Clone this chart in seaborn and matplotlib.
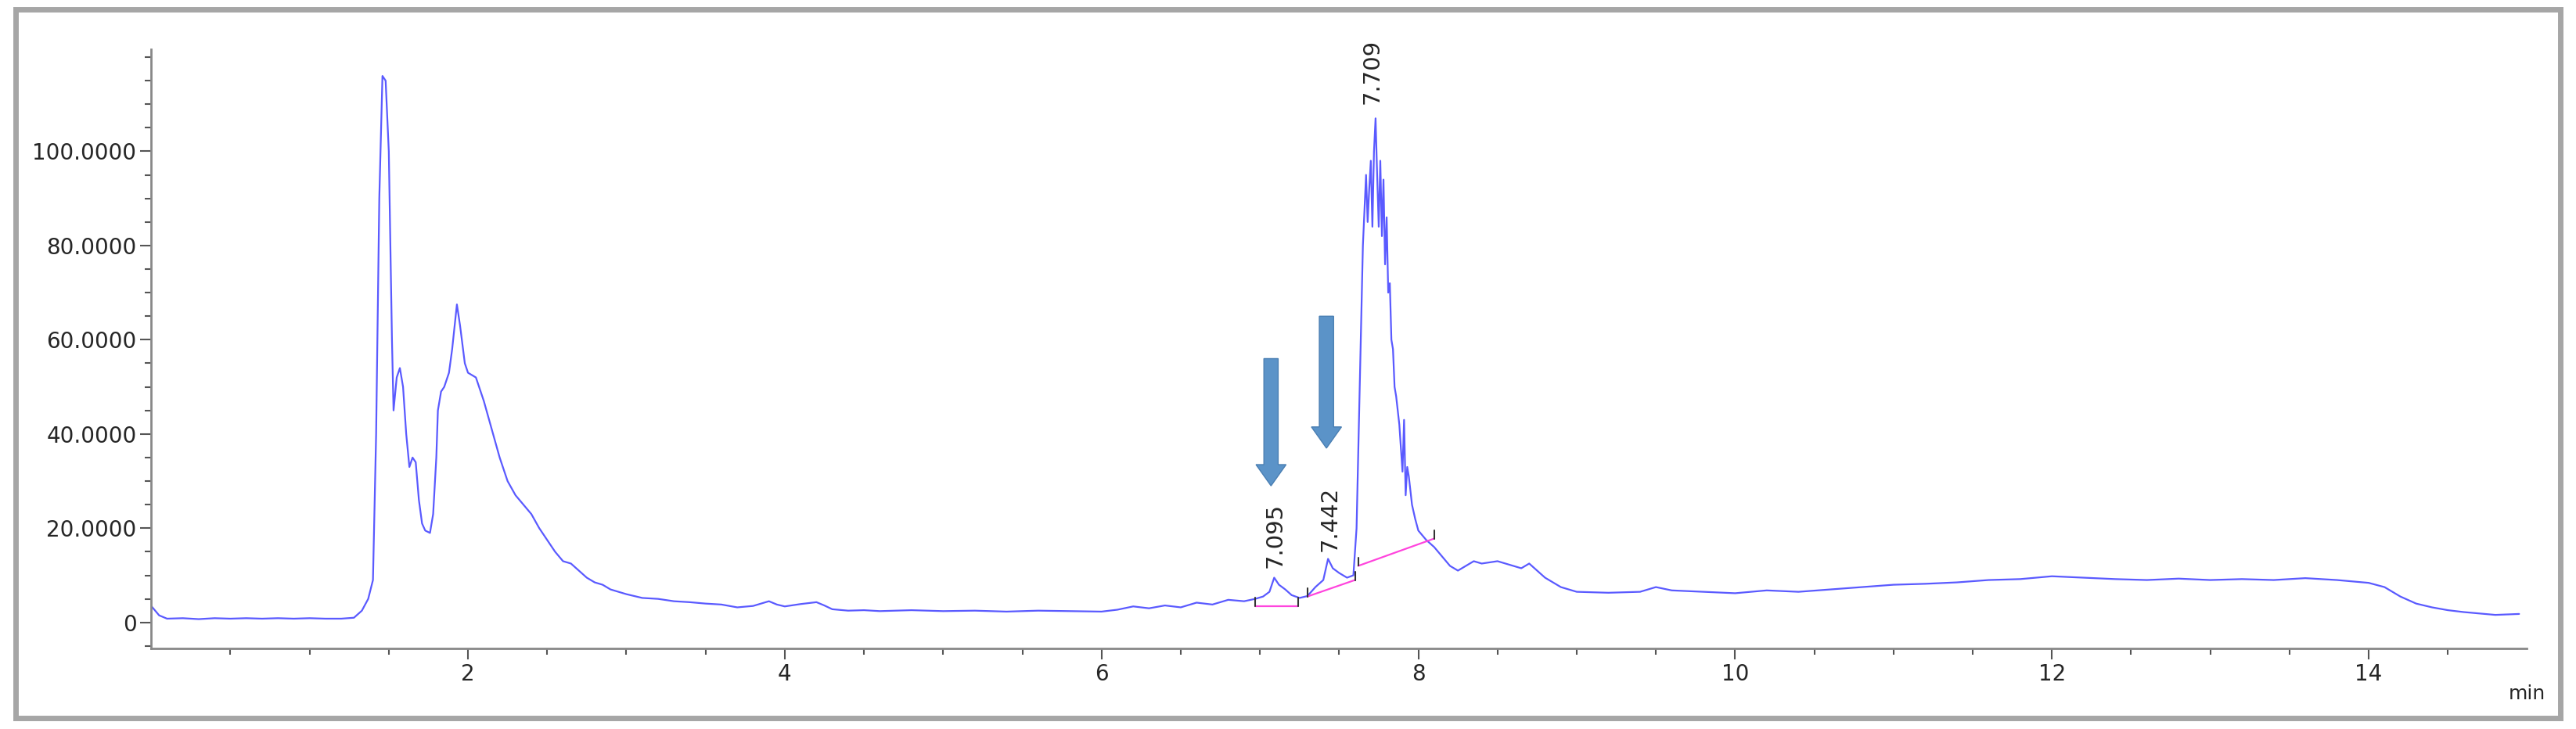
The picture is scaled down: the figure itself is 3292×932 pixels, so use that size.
import numpy as np
import pandas as pd
import seaborn as sns
import matplotlib.pyplot as plt
from matplotlib.patches import Rectangle

# chromatogram trace (min, signal)
time_min = [0.00, 0.05, 0.10, 0.20, 0.30, 0.40, 0.50, 0.60, 0.70, 0.80, 0.90, 1.00, 1.10, 1.20, 1.28,
            1.33, 1.37, 1.40, 1.42, 1.44, 1.46, 1.48, 1.50, 1.52, 1.53, 1.55, 1.57, 1.59, 1.61, 1.63,
            1.65, 1.67, 1.69, 1.71, 1.73, 1.76, 1.78, 1.80, 1.81, 1.83, 1.85, 1.88, 1.90, 1.93, 1.95,
            1.98, 2.00, 2.05, 2.10, 2.15, 2.20, 2.25, 2.30, 2.35, 2.40, 2.45, 2.50, 2.55, 2.60, 2.65,
            2.70, 2.75, 2.80, 2.85, 2.90, 3.00, 3.10, 3.20, 3.30, 3.40, 3.50, 3.60, 3.70, 3.80, 3.90,
            3.95, 4.00, 4.10, 4.20, 4.25, 4.30, 4.40, 4.50, 4.60, 4.80, 5.00, 5.20, 5.40, 5.60, 5.80,
            6.00, 6.10, 6.20, 6.30, 6.40, 6.50, 6.60, 6.70, 6.80, 6.90, 6.97, 7.02, 7.06, 7.09, 7.12,
            7.16, 7.20, 7.25, 7.30, 7.35, 7.40, 7.43, 7.46, 7.50, 7.55, 7.59, 7.61, 7.63, 7.65, 7.67,
            7.68, 7.69, 7.70, 7.71, 7.72, 7.73, 7.74, 7.75, 7.76, 7.77, 7.78, 7.79, 7.80, 7.81, 7.82,
            7.83, 7.84, 7.85, 7.86, 7.88, 7.90, 7.91, 7.92, 7.93, 7.94, 7.95, 7.96, 7.98, 8.00, 8.05,
            8.10, 8.15, 8.20, 8.25, 8.30, 8.35, 8.40, 8.50, 8.60, 8.65, 8.70, 8.75, 8.80, 8.90, 9.00,
            9.20, 9.40, 9.50, 9.60, 9.80, 10.00, 10.20, 10.40, 10.60, 10.80, 11.00, 11.20, 11.40, 11.60,
            11.80, 12.00, 12.20, 12.40, 12.60, 12.80, 13.00, 13.20, 13.40, 13.60, 13.80, 14.00, 14.10,
            14.20, 14.30, 14.40, 14.50, 14.60, 14.80, 14.95]
signal = [3.5, 1.5, 0.8, 0.9, 0.7, 0.9, 0.8, 0.9, 0.8, 0.9, 0.8, 0.9, 0.8, 0.8, 1.0,
          2.5, 5.0, 9.0, 40.0, 90.0, 116.0, 115.0, 100.0, 60.0, 45.0, 52.0, 54.0, 50.0, 40.0, 33.0,
          35.0, 34.0, 26.0, 21.0, 19.5, 19.0, 23.0, 35.0, 45.0, 49.0, 50.0, 53.0, 58.0, 67.5, 63.0,
          55.0, 53.0, 52.0, 47.0, 41.0, 35.0, 30.0, 27.0, 25.0, 23.0, 20.0, 17.5, 15.0, 13.0, 12.5,
          11.0, 9.5, 8.5, 8.0, 7.0, 6.0, 5.2, 5.0, 4.5, 4.3, 4.0, 3.8, 3.2, 3.5, 4.5,
          3.8, 3.4, 3.9, 4.3, 3.6, 2.8, 2.5, 2.6, 2.4, 2.6, 2.4, 2.5, 2.3, 2.5, 2.4,
          2.3, 2.7, 3.4, 3.0, 3.6, 3.2, 4.2, 3.8, 4.8, 4.5, 5.0, 5.5, 6.5, 9.5, 8.0,
          7.0, 5.8, 5.2, 5.6, 7.5, 9.0, 13.5, 11.5, 10.5, 9.5, 10.0, 20.0, 50.0, 80.0, 95.0,
          85.0, 92.0, 98.0, 84.0, 100.0, 107.0, 95.0, 84.0, 98.0, 82.0, 94.0, 76.0, 86.0, 70.0, 72.0,
          60.0, 58.0, 50.0, 48.0, 42.0, 32.0, 43.0, 27.0, 33.0, 31.0, 28.0, 25.0, 22.0, 19.5, 17.5,
          16.0, 14.0, 12.0, 11.0, 12.0, 13.0, 12.5, 13.0, 12.0, 11.5, 12.5, 11.0, 9.5, 7.5, 6.5,
          6.3, 6.5, 7.5, 6.8, 6.5, 6.2, 6.8, 6.5, 7.0, 7.5, 8.0, 8.2, 8.5, 9.0,
          9.2, 9.8, 9.5, 9.2, 9.0, 9.3, 9.0, 9.2, 9.0, 9.4, 9.0, 8.4, 7.5,
          5.5, 4.0, 3.2, 2.6, 2.2, 1.6, 1.8]
n = min(len(time_min), len(signal))

# integration baselines (pink)
base_x = [[6.97, 7.24], [7.30, 7.60], [7.62, 8.10]]
base_y = [[3.5, 3.5], [5.5, 9.0], [12.0, 17.8]]

# peak labels
peak_rt = [7.095, 7.442, 7.709]
label_y = [11.5, 15.0, 110.0]

# arrows (x, top, bottom)
arrow_x = [7.07, 7.42]
arrow_top = [56.0, 65.0]
arrow_bottom = [29.0, 37.0]

sns.set_style("white")
plt.rcParams['font.family'] = ['DejaVu Sans']

fig = plt.figure(figsize=(32.92, 9.32), dpi=100)
fig.patches.append(Rectangle((0.006, 0.015), 0.988, 0.972, transform=fig.transFigure,
                             fill=False, edgecolor='#a6a6a6', lw=5))
ax = fig.add_axes([0.0587, 0.110, 0.9223, 0.822])

df = pd.DataFrame({'t': time_min[:n], 's': signal[:n]})
sns.lineplot(data=df, x='t', y='s', ax=ax, color='#5a5aff', lw=1.6, sort=False, estimator=None)

for bx, by in zip(base_x, base_y):
    ax.plot(bx, by, color='#ff44dd', lw=1.6)
    for xx, yy in zip(bx, by):
        ax.plot([xx, xx], [yy, yy + 1.8], color='#333333', lw=1.5)

for x, top, bot in zip(arrow_x, arrow_top, arrow_bottom):
    ax.arrow(x, top, 0, bot - top + 4.5, width=0.09, head_width=0.19, head_length=4.5,
             length_includes_head=False, color='#5b93c8', ec='#4a7fb3')

for rt, y in zip(peak_rt, label_y):
    ax.text(rt, y, f"{rt:.3f}", rotation=90, ha='center', va='bottom', fontsize=21)

ax.set_xlim(0, 15)
ax.set_ylim(-5.6, 121.6)
ax.set_xticks([2, 4, 6, 8, 10, 12, 14])
ax.set_xticks(np.arange(0.5, 15, 0.5), minor=True)
ax.set_yticks([0, 20, 40, 60, 80, 100])
ax.set_yticklabels(['0', '20.0000', '40.0000', '60.0000', '80.0000', '100.0000'])
ax.set_yticks(np.arange(-5, 121, 5), minor=True)
ax.tick_params(axis='both', which='major', direction='out', length=10, width=1.5,
               color='#555555', labelsize=20, bottom=True, left=True)
ax.tick_params(axis='both', which='minor', direction='out', length=6, width=1.5,
               color='#555555', bottom=True, left=True)
ax.set_xlabel('')
ax.set_ylabel('')
for side in ['top', 'right']:
    ax.spines[side].set_visible(False)
for side in ['left', 'bottom']:
    ax.spines[side].set_color('#888888')
    ax.spines[side].set_linewidth(2)
ax.text(1.0, -0.06, 'min', transform=ax.transAxes, ha='center', va='top', fontsize=18)

fig.savefig('out.png', dpi=100)
